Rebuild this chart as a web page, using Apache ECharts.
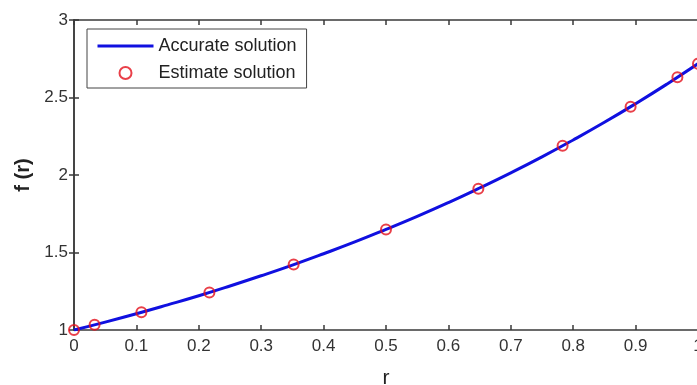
<!DOCTYPE html>
<html>
<head>
<meta charset="utf-8">
<style>html,body{margin:0;padding:0;background:#fff}#c{width:697px;height:385px}</style>
<script src="https://cdn.jsdelivr.net/npm/echarts@6/dist/echarts.min.js"></script>
</head>
<body>
<div id="c"></div>
<script>
// Accurate solution sampled along r
const rLine = [0, 0.05, 0.1, 0.15, 0.2, 0.25, 0.3, 0.35, 0.4, 0.45, 0.5, 0.55, 0.6, 0.65, 0.7, 0.75, 0.8, 0.85, 0.9, 0.95, 1.0];
const fLine = [1.000, 1.051, 1.105, 1.162, 1.221, 1.284, 1.350, 1.419, 1.492, 1.568, 1.649, 1.733, 1.822, 1.916, 2.014, 2.117, 2.226, 2.340, 2.460, 2.586, 2.718];
// Estimate solution at collocation points
const rEst = [0, 0.033, 0.108, 0.217, 0.352, 0.5, 0.648, 0.783, 0.892, 0.967, 1.0];
const fEst = [1.000, 1.034, 1.114, 1.242, 1.422, 1.649, 1.912, 2.188, 2.440, 2.630, 2.718];

const axisColor = '#3a3a3a';
const fontFamily = 'Liberation Sans, Arial, sans-serif';
const labelFont = { color: '#333', fontSize: 17, fontFamily };
const tick = { show: true, inside: true, length: 5, lineStyle: { color: axisColor, width: 1.5 } };
const line = { show: true, lineStyle: { color: axisColor, width: 1.5 } };

const chart = echarts.init(document.getElementById('c'));
chart.setOption({
  animation: false,
  grid: { left: 74, right: -1, top: 20, bottom: 55, containLabel: false, outerBoundsMode: 'none' },
  xAxis: [
    {
      type: 'value', min: 0, max: 1, interval: 0.1, position: 'bottom',
      name: 'r', nameLocation: 'middle', nameGap: 38,
      nameTextStyle: { fontSize: 21, color: '#222', fontFamily },
      axisLine: line, axisTick: tick,
      axisLabel: Object.assign({ margin: 8, formatter: v => String(+v.toFixed(1)) }, labelFont),
      splitLine: { show: false }
    },
    {
      type: 'value', min: 0, max: 1, interval: 0.1, position: 'top',
      axisLine: line, axisTick: tick,
      axisLabel: { show: false }, splitLine: { show: false }
    }
  ],
  yAxis: [
    {
      type: 'value', min: 1, max: 3, interval: 0.5, position: 'left',
      name: 'f (r)', nameLocation: 'middle', nameGap: 40, nameRotate: 90,
      nameTextStyle: { fontSize: 20, fontWeight: 'bold', color: '#222', fontFamily },
      axisLine: line, axisTick: tick,
      axisLabel: Object.assign({ margin: 6 }, labelFont),
      splitLine: { show: false }
    },
    {
      type: 'value', min: 1, max: 3, interval: 0.5, position: 'right',
      axisLine: line, axisTick: tick,
      axisLabel: { show: false }, splitLine: { show: false }
    }
  ],
  legend: {
    left: 87, top: 29, orient: 'vertical',
    padding: [8, 10, 6, 9], itemWidth: 56, itemHeight: 12, itemGap: 9,
    borderColor: '#444', borderWidth: 1, backgroundColor: '#fff',
    textStyle: { fontSize: 18, color: '#222', fontFamily },
    data: [
      {
        name: 'Accurate solution',
        itemStyle: { color: 'rgba(0,0,0,0)', borderWidth: 0, opacity: 0 },
        lineStyle: { width: 3, color: '#1010e0' }
      },
      'Estimate solution'
    ]
  },
  series: [
    {
      name: 'Accurate solution', type: 'line', smooth: true, symbol: 'none',
      data: rLine.map((r, i) => [r, fLine[i]]),
      lineStyle: { color: '#1010e0', width: 3 },
      itemStyle: { color: '#1010e0' },
      z: 2
    },
    {
      name: 'Estimate solution', type: 'scatter', symbol: 'circle', symbolSize: 10,
      data: rEst.map((r, i) => [r, fEst[i]]),
      itemStyle: { color: 'rgba(255,255,255,0)', borderColor: '#e4101c', borderWidth: 2 },
      z: 3
    }
  ]
});
</script>
</body>
</html>
